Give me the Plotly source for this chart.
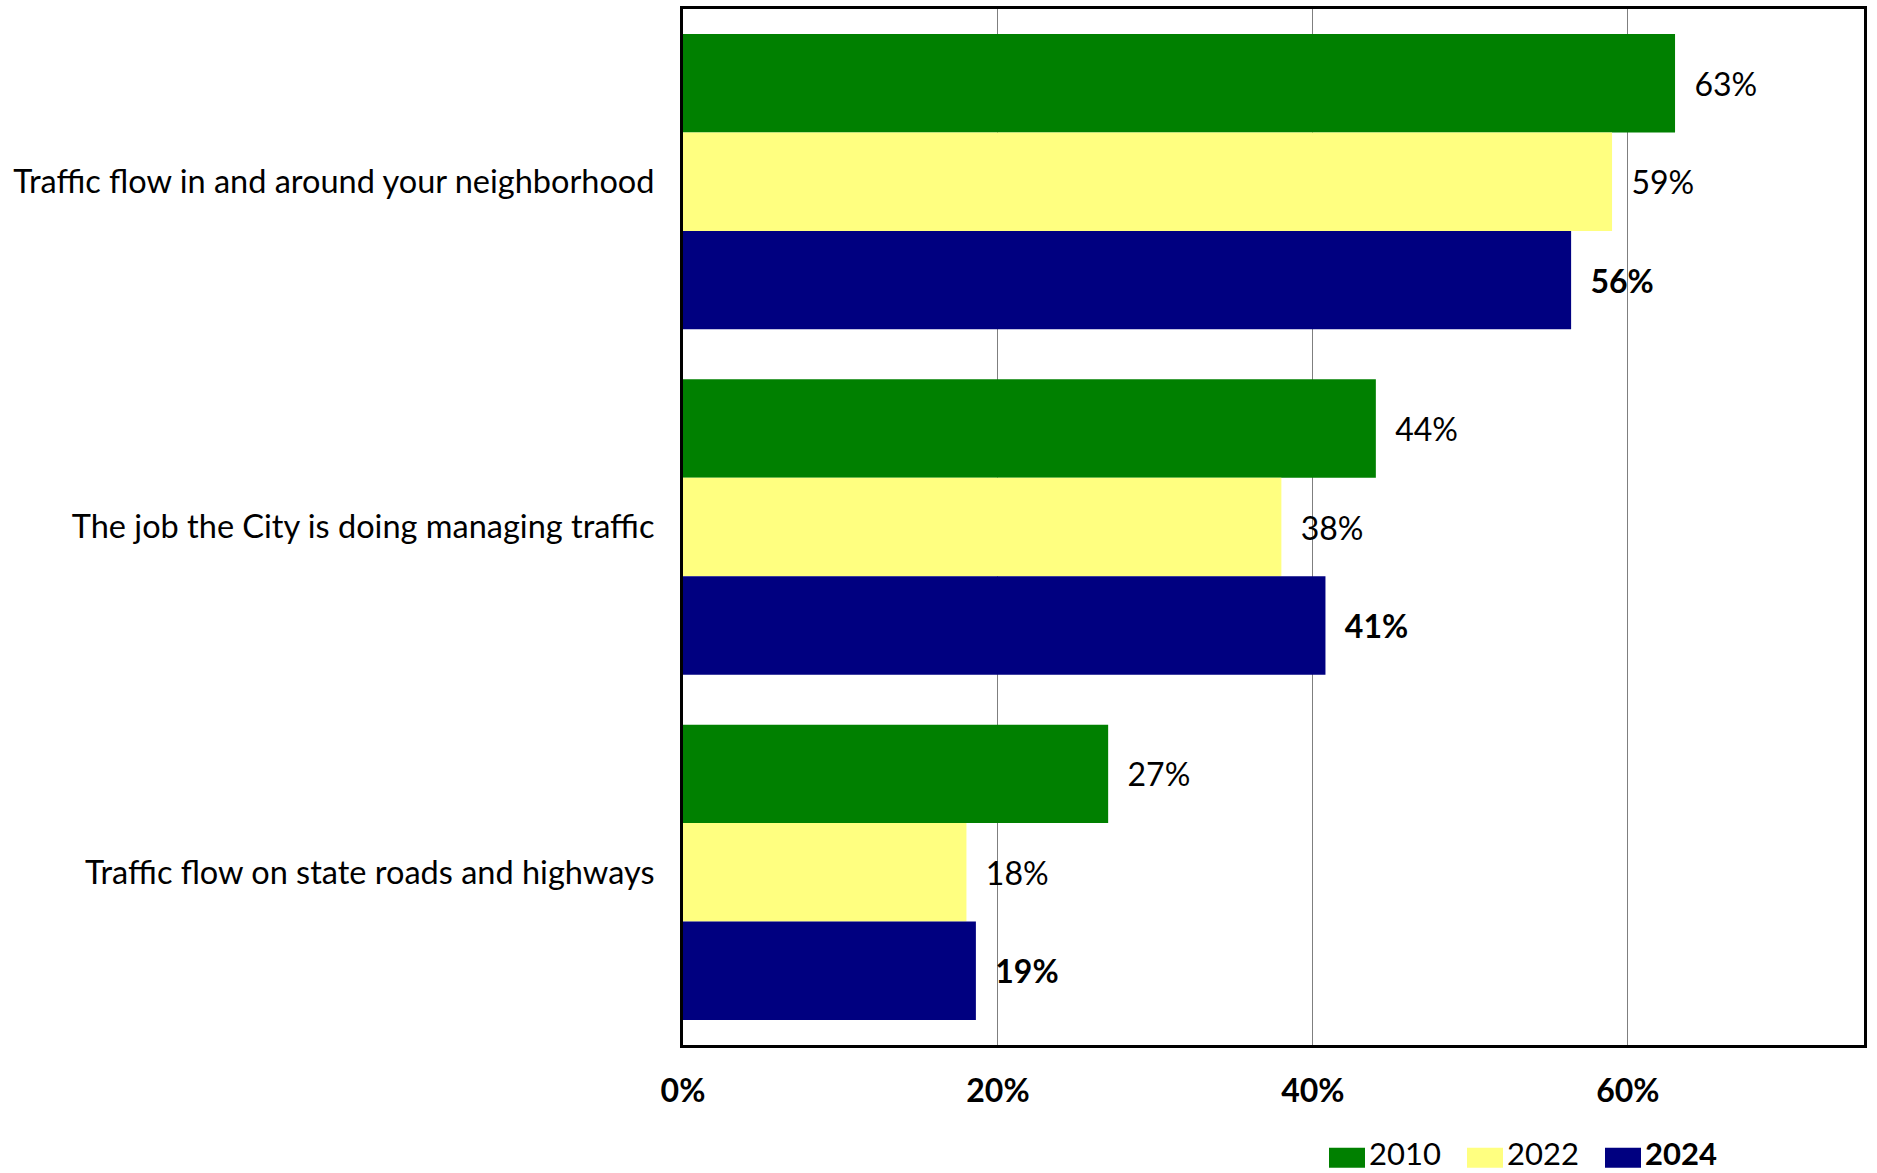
import plotly.graph_objects as go

# Survey items (top to bottom) and the share rating each item positively, by year
categories = [
    "Traffic flow in and around your neighborhood",
    "The job the City is doing managing traffic",
    "Traffic flow on state roads and highways",
]
years = ["2010", "2022", "2024"]
values_2010 = [63, 44, 27]
values_2022 = [59, 38, 18]
values_2024 = [56.4, 40.8, 18.6]
series = [values_2010, values_2022, values_2024]
colors = ["#008000", "#FFFF80", "#000080"]
x_ticks = [0, 20, 40, 60]
x_tick_labels = ["0%", "20%", "40%", "60%"]

FONT = "Lato, Carlito, Calibri, sans-serif"

fig = go.Figure()
for year, vals, color in zip(years, series, colors):
    bold = year == years[-1]
    tmpl = "\u00a0\u00a0%{x:.0f}%"
    if bold:
        tmpl = "\u00a0\u00a0<b>%{x:.0f}%</b>"
    fig.add_trace(go.Bar(
        y=categories, x=vals, name=year, orientation="h",
        marker=dict(color=color, line=dict(width=0)),
        texttemplate=tmpl, textposition="outside",
        textfont=dict(family=FONT, size=32, color="black"),
        constraintext="none", cliponaxis=False,
        showlegend=False,
    ))

# Legend drawn beneath the plot: colour swatch followed by the year
W, H = 1877, 1173
L, R, T, B = 683, 13, 6, 128
pw, ph = W - L - R, H - T - B


def px_x(p):
    return (p - L) / pw


def px_y(p):
    return (H - B - p) / ph


shapes = []
annotations = []
legend_x = [1329, 1467, 1605]
for year, color, lx in zip(years, colors, legend_x):
    shapes.append(dict(type="rect", xref="paper", yref="paper",
                       x0=px_x(lx), x1=px_x(lx + 36),
                       y0=px_y(1168), y1=px_y(1148),
                       fillcolor=color, line=dict(width=0)))
    label = f"<b>{year}</b>" if year == years[-1] else year
    annotations.append(dict(xref="paper", yref="paper",
                            x=px_x(lx + 39), y=px_y(1153),
                            xanchor="left", yanchor="middle",
                            text=label, showarrow=False, borderpad=0,
                            font=dict(family=FONT, size=31, color="black")))

fig.update_layout(
    width=W, height=H,
    margin=dict(l=L, r=R, t=T, b=B, pad=0),
    paper_bgcolor="white", plot_bgcolor="white",
    barmode="group", bargap=0.145, bargroupgap=0,
    font=dict(family=FONT, size=30, color="black"),
    shapes=shapes, annotations=annotations,
    showlegend=False,
)
fig.update_xaxes(
    range=[0, 75], tickvals=x_ticks, ticktext=x_tick_labels,
    tickfont=dict(family=FONT, size=32, color="black", weight="bold"),
    showgrid=True, gridcolor="#7f7f7f", gridwidth=1,
    showline=True, linecolor="black", linewidth=3, mirror=True,
    zeroline=False, ticks="", ticklabelstandoff=16,
)
fig.update_yaxes(
    autorange="reversed", categoryorder="array", categoryarray=categories,
    tickfont=dict(family=FONT, size=32.5, color="black"),
    showgrid=False, showline=True, linecolor="black", linewidth=3, mirror=True,
    ticks="", ticklabelstandoff=19,
)

fig.write_html("out.html")
